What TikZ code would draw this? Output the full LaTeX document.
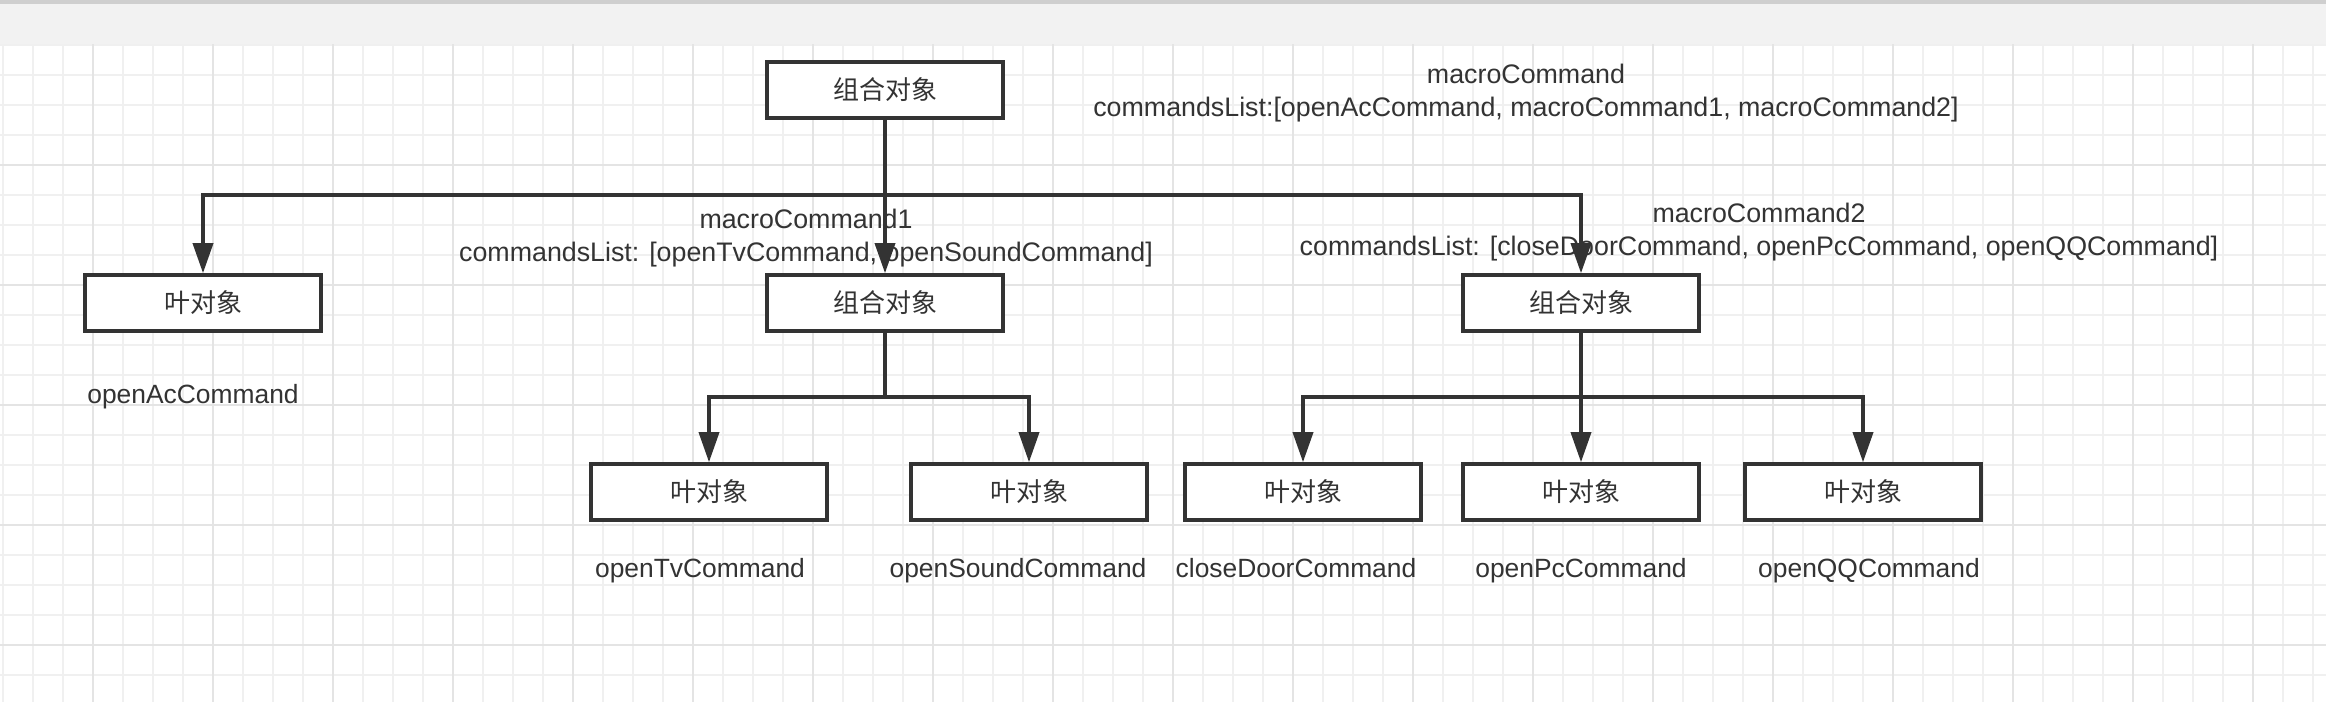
\documentclass[tikz,border=0pt]{standalone}
\usepackage{fontspec}
\setmainfont{Liberation Sans}
\newfontfamily\cjk{Noto Sans CJK SC}
\usetikzlibrary{arrows.meta}
\definecolor{ink}{HTML}{333333}
\definecolor{gridminor}{HTML}{F0F0F0}
\definecolor{gridmajor}{HTML}{E4E4E4}
\definecolor{band}{HTML}{F2F2F2}
\definecolor{bandtop}{HTML}{CFCFCF}
\begin{document}
\begin{tikzpicture}[x=0.5pt,y=-0.5pt,
  box/.style={draw=ink, line width=1.8pt, fill=white, minimum width=118pt, minimum height=28pt, inner sep=0pt, font=\cjk\fontsize{13}{15}\selectfont, text=ink},
  lbl/.style={text=ink, font=\fontsize{13.2}{16.5}\selectfont, inner sep=0pt, align=center, text height=0.72em, text depth=0.21em},
  lbltwo/.style={text=ink, font=\fontsize{13.4}{16.5}\selectfont, inner sep=0pt, align=center},
  edge/.style={draw=ink, line width=1.8pt, -{Triangle[length=15pt,width=10pt]}},
  minorline/.style={draw=gridminor, line width=0.8pt},
  majorline/.style={draw=gridmajor, line width=0.8pt}]
\useasboundingbox (0,0) rectangle (2326,702);
\fill[white] (0,0) rectangle (2326,702);
\fill[band] (0,0) rectangle (2326,44);
\fill[bandtop] (0,0) rectangle (2326,4);
% grid
\foreach \k in {0,...,77} { \draw[minorline] (3+30*\k,44) -- (3+30*\k,702); }
\foreach \k in {0,...,21} { \draw[minorline] (0,45+30*\k) -- (2326,45+30*\k); }
\foreach \k in {0,...,18} { \draw[majorline] (93+120*\k,44) -- (93+120*\k,702); }
\foreach \k in {0,...,4} { \draw[majorline] (0,165+120*\k) -- (2326,165+120*\k); }
% boxes
\node[box] (T) at (885,90) {组合对象};
\node[box] (L0) at (203,303) {叶对象};
\node[box] (M1) at (885,303) {组合对象};
\node[box] (M2) at (1581,303) {组合对象};
\node[box] (A) at (709,492) {叶对象};
\node[box] (B) at (1029,492) {叶对象};
\node[box] (C) at (1303,492) {叶对象};
\node[box] (D) at (1581,492) {叶对象};
\node[box] (E) at (1863,492) {叶对象};
% labels
\node[lbltwo] (lt) at (1526,93) {macroCommand\\commandsList:[openAcCommand, macroCommand1, macroCommand2]};
\node[lbltwo] (lm1) at (806,238) {macroCommand1\\commandsList: [openTvCommand, openSoundCommand]};
\node[lbltwo] (lm2) at (1759,232) {macroCommand2\\commandsList: [closeDoorCommand, openPcCommand, openQQCommand]};
\node[lbl] (la0) at (193,398) {openAcCommand};
\node[lbl] (la) at (700,572) {openTvCommand};
\node[lbl] (lb) at (1018,572) {openSoundCommand};
\node[lbl] (lc) at (1296,572) {closeDoorCommand};
\node[lbl] (ld) at (1581,572) {openPcCommand};
\node[lbl] (le) at (1869,572) {openQQCommand};
% connectors
\coordinate (j0) at (885,195);
\coordinate (j1) at (885,397);
\coordinate (j2) at (1581,397);
\draw[edge] (T.south) -- (j0) -| (L0.north);
\draw[edge] (T.south) -- (M1.north);
\draw[edge] (T.south) -- (j0) -| (M2.north);
\draw[edge] (M1.south) -- (j1) -| (A.north);
\draw[edge] (M1.south) -- (j1) -| (B.north);
\draw[edge] (M2.south) -- (j2) -| (C.north);
\draw[edge] (M2.south) -- (D.north);
\draw[edge] (M2.south) -- (j2) -| (E.north);
\end{tikzpicture}
\end{document}
